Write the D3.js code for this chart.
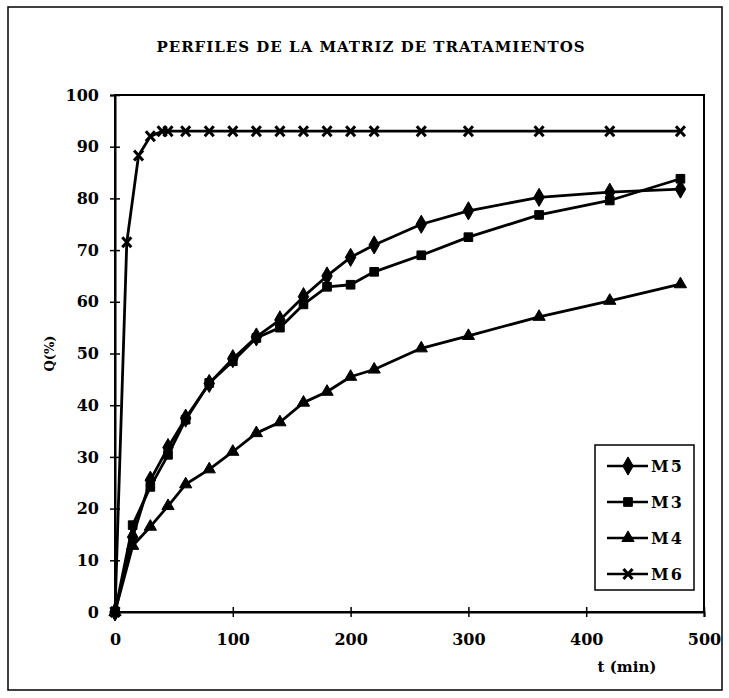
<!DOCTYPE html>
<html>
<head>
<meta charset="utf-8">
<script src="https://cdn.jsdelivr.net/npm/d3@7"></script>
<style>
  body { margin: 0; background: #fff; }
  svg { display: block; }
  .tick text { font-family: "DejaVu Serif", serif; font-weight: bold; font-size: 16px; fill: #000; }
  .axis path, .axis line { stroke: #000; }
  .line { fill: none; stroke: #000; stroke-width: 2.8; stroke-linejoin: round; }
</style>
</head>
<body>
<div id="graphs"></div>
<script>
// tiempos de muestreo (min)
var tiempos = [0, 15, 30, 45, 60, 80, 100, 120, 140, 160, 180, 200, 220, 260, 300, 360, 420, 480];
var tiemposM6 = [0, 10, 20, 30, 40, 45, 60, 80, 100, 120, 140, 160, 180, 200, 220, 260, 300, 360, 420, 480];

// Q(%) de cada tratamiento
var m5 = [0, 14.5, 25.5, 31.8, 37.5, 44.2, 49, 53.2, 56.5, 61, 65, 68.6, 71, 75, 77.6, 80.2, 81.2, 81.8];
var m3 = [0, 16.8, 24.2, 30.4, 37.2, 44.3, 48.5, 53, 55, 59.5, 62.9, 63.3, 65.8, 69, 72.5, 76.8, 79.6, 83.8];
var m4 = [0, 12.8, 16.5, 20.5, 24.7, 27.6, 31, 34.6, 36.7, 40.5, 42.6, 45.5, 46.9, 51, 53.4, 57.1, 60.2, 63.4];
var m6 = [0, 71.5, 88.3, 92, 93, 93, 93, 93, 93, 93, 93, 93, 93, 93, 93, 93, 93, 93, 93, 93];

var xTicks = [0, 100, 200, 300, 400, 500];
var yTicks = [0, 10, 20, 30, 40, 50, 60, 70, 80, 90, 100];

var nombres = ["M5", "M3", "M4", "M6"];

var series = [
  {name: "M5", t: tiempos, q: m5, sym: d3.symbolDiamond, size: 95},
  {name: "M3", t: tiempos, q: m3, sym: d3.symbolSquare, size: 75},
  {name: "M4", t: tiempos, q: m4, sym: d3.symbolTriangle, size: 65},
  {name: "M6", t: tiemposM6, q: m6, sym: "x", size: 0}
];

var W = 729, H = 698;
var margin = {top: 95, right: 25, bottom: 86, left: 115},
    width = W - margin.left - margin.right,
    height = H - margin.top - margin.bottom;

var root = d3.select("#graphs").append("svg")
    .attr("width", W)
    .attr("height", H);

// marco exterior
root.append("rect")
    .attr("x", 8).attr("y", 7)
    .attr("width", 714).attr("height", 683)
    .attr("fill", "none")
    .attr("stroke", "#000")
    .attr("stroke-width", 1.5);

root.append("text")
    .attr("x", 371).attr("y", 52)
    .attr("text-anchor", "middle")
    .style("font-family", "DejaVu Serif, serif")
    .style("font-weight", "bold")
    .style("font-size", "15px")
    .style("letter-spacing", "1px")
    .text("PERFILES DE LA MATRIZ DE TRATAMIENTOS");

var svg = root.append("g")
    .attr("transform", "translate(" + margin.left + "," + margin.top + ")");

var x = d3.scaleLinear().domain([0, 500]).range([0, width]);
var y = d3.scaleLinear().domain([0, 100]).range([height, 0]);

// recuadro del area de trazado
svg.append("rect")
    .attr("width", width).attr("height", height)
    .attr("fill", "none")
    .attr("stroke", "#000")
    .attr("stroke-width", 2);

svg.append("g")
    .attr("class", "axis axis--x")
    .attr("transform", "translate(0," + height + ")")
    .call(d3.axisBottom(x).tickValues(xTicks).tickSize(5).tickPadding(17))
    .call(function(g) {
      g.select(".domain").attr("stroke-width", 2);
      g.selectAll(".tick line").attr("y1", -5).attr("stroke-width", 1.5);
    });

svg.append("g")
    .attr("class", "axis axis--y")
    .call(d3.axisLeft(y).tickValues(yTicks).tickSize(5).tickPadding(11))
    .call(function(g) {
      g.select(".domain").attr("stroke-width", 2);
      g.selectAll(".tick line").attr("x1", 5).attr("stroke-width", 1.5);
    });

root.append("text")
    .attr("transform", "translate(54," + (margin.top + y(50)) + ") rotate(-90)")
    .attr("text-anchor", "middle")
    .style("font-family", "DejaVu Serif, serif")
    .style("font-weight", "bold")
    .style("font-size", "13px")
    .text("Q(%)");

root.append("text")
    .attr("x", 627).attr("y", 672)
    .attr("text-anchor", "middle")
    .style("font-family", "DejaVu Serif, serif")
    .style("font-weight", "bold")
    .style("font-size", "15px")
    .text("t (min)");

var line = d3.line()
    .x(function(d) { return x(d[0]); })
    .y(function(d) { return y(d[1]); });

function marker(sel, s) {
  if (s.sym === "x") {
    sel.append("path")
        .attr("d", "M-4.5,-5L4.5,5M4.5,-5L-4.5,5")
        .attr("stroke", "#000")
        .attr("stroke-width", 3)
        .attr("fill", "none");
  } else {
    sel.append("path")
        .attr("d", d3.symbol().type(s.sym).size(s.size))
        .attr("fill", "#000")
        .attr("stroke", "#000")
        .attr("stroke-width", 1);
  }
}

series.forEach(function(s) {
  var pts = s.t.map(function(t, i) { return [t, s.q[i]]; });
  svg.append("path")
      .datum(pts)
      .attr("class", "line")
      .attr("d", line);
  svg.selectAll(null)
      .data(pts)
    .enter().append("g")
      .attr("transform", function(d) { return "translate(" + x(d[0]) + "," + y(d[1]) + ")"; })
      .each(function() { marker(d3.select(this), s); });
});

// leyenda
var legend = root.append("g").attr("transform", "translate(595,445)");
legend.append("rect")
    .attr("width", 99).attr("height", 145)
    .attr("fill", "#fff")
    .attr("stroke", "#000")
    .attr("stroke-width", 1.5);

series.forEach(function(s, i) {
  var row = legend.append("g").attr("transform", "translate(0," + (21 + i * 36) + ")");
  row.append("line")
      .attr("x1", 12).attr("x2", 53)
      .attr("stroke", "#000").attr("stroke-width", 2.4);
  var m = row.append("g").attr("transform", "translate(33,0)");
  marker(m, s);
  row.append("text")
      .attr("x", 56).attr("y", 6)
      .style("font-family", "DejaVu Serif, serif")
      .style("font-weight", "bold")
      .style("font-size", "16px")
      .style("letter-spacing", "2px")
      .text(nombres[i]);
});
</script>
</body>
</html>
